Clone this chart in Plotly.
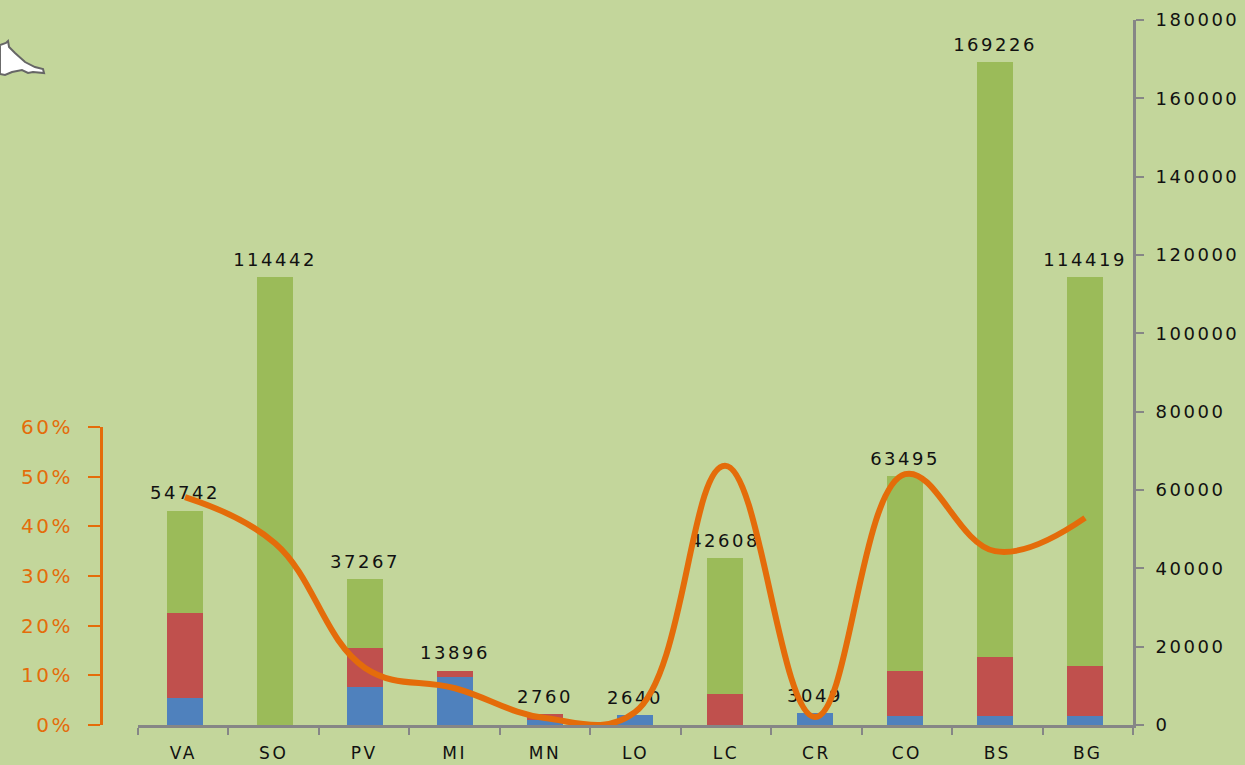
"""
Province chart: stacked bars with totals and a smoothed percentage line
"""

import plotly.graph_objects as go

provinces = ['VA', 'SO', 'PV', 'MI', 'MN', 'LO', 'LC', 'CR', 'CO', 'BS', 'BG']
blue_values = [7000, 0, 9800, 12250, 1300, 2640, 0, 3049, 2400, 2400, 2400]
red_values = [21700, 0, 9900, 1646, 1460, 0, 8000, 0, 11400, 14900, 12700]
green_values = [26042, 114442, 17567, 0, 0, 0, 34608, 0, 49695, 151926, 99319]
totals = [54742, 114442, 37267, 13896, 2760, 2640, 42608, 3049, 63495, 169226, 114419]
share_pct = [45.9, 36.6, 11.5, 7.4, 1.4, 2.6, 52.2, 1.6, 50.5, 35, 41.7]

right_ticks = [0, 20000, 40000, 60000, 80000, 100000, 120000, 140000, 160000, 180000]
left_ticks = [0, 10, 20, 30, 40, 50, 60]

BG_COLOR = '#C3D69B'
ORANGE = '#E46C0A'
GREY = '#868686'
FONT = 'DejaVu Sans'
W, H = 1245, 765
LEFT, RIGHT, TOP, BOTTOM = 101, 112, 20, 40


def px_x(x):
    return (x - LEFT) / (W - LEFT - RIGHT)


def px_y(y):
    return (H - BOTTOM - y) / (H - TOP - BOTTOM)


# white map fragment in the top left corner
blob = [(0, 45), (6, 43), (8, 41), (9, 47), (15, 53), (25, 62), (35, 67), (43, 69),
        (44, 73), (33, 72), (28, 73), (22, 70), (12, 72), (5, 75), (0, 74)]
blob_path = 'M ' + ' L '.join(f'{px_x(x):.4f} {px_y(y):.4f}' for x, y in blob) + ' Z'

fig = go.Figure()

# invisible trace so the visible category axis gets drawn
fig.add_trace(go.Scatter(x=provinces, y=[0] * len(provinces), mode='markers', xaxis='x', yaxis='y',
                         marker=dict(opacity=0), hoverinfo='skip'))

for name, values, color in [('blue', blue_values, '#4F81BD'),
                            ('red', red_values, '#C0504D'),
                            ('green', green_values, '#9BBB59')]:
    fig.add_trace(go.Bar(x=provinces, y=values, name=name, marker_color=color,
                         marker_line_width=0, width=0.4, xaxis='x2', yaxis='y'))

# transparent markers push the total labels up off the bars
fig.add_trace(go.Scatter(x=provinces, y=totals, mode='markers+text', text=[str(t) for t in totals],
                         textposition='top center', xaxis='x2', yaxis='y',
                         marker=dict(size=9, opacity=0),
                         textfont=dict(family=FONT, size=18, color='#111111'),
                         cliponaxis=False))

fig.add_trace(go.Scatter(x=provinces, y=share_pct, mode='lines', xaxis='x2', yaxis='y2',
                         line=dict(color=ORANGE, width=6, shape='spline', smoothing=1.15),
                         cliponaxis=False))

fig.update_layout(
    width=W,
    height=H,
    margin=dict(l=LEFT, r=RIGHT, t=TOP, b=BOTTOM, pad=0, autoexpand=False),
    paper_bgcolor=BG_COLOR,
    plot_bgcolor='rgba(0,0,0,0)',
    barmode='stack',
    showlegend=False,
    font=dict(family=FONT, size=18, color='#111111'),
    xaxis=dict(
        domain=[px_x(138), 1], anchor='y', type='category', categoryorder='array',
        categoryarray=provinces, tickmode='array', tickvals=provinces, ticktext=provinces,
        range=[-0.5, 10.5], tickson='boundaries', ticks='outside', ticklen=7, tickwidth=2,
        tickcolor=GREY, showline=True, linecolor=GREY, linewidth=3, showgrid=False,
        automargin=False, ticklabelstandoff=11, tickfont=dict(family=FONT, size=17, color='#111111'),
    ),
    xaxis2=dict(
        domain=[px_x(138), 1], anchor='y2', type='category', categoryorder='array',
        categoryarray=provinces, range=[-0.522, 10.533], visible=False,
    ),
    yaxis=dict(
        side='right', anchor='x', range=[0, 180000], tickmode='array', tickvals=right_ticks,
        ticktext=[str(t) for t in right_ticks],
        ticks='outside', ticklen=8, tickwidth=2, tickcolor=GREY, showline=True,
        linecolor=GREY, linewidth=3, showgrid=False, zeroline=False, ticklabelstandoff=8,
        automargin=False, tickfont=dict(family=FONT, size=18, color='#111111'),
    ),
    yaxis2=dict(
        domain=[0, (725 - 427) / (H - TOP - BOTTOM)], anchor='free', position=0, side='left',
        range=[0, 60], tickmode='array', tickvals=left_ticks,
        ticktext=[f'{t}%' for t in left_ticks], ticks='outside', ticklen=12, tickwidth=2,
        tickcolor=ORANGE, showline=True, linecolor=ORANGE, linewidth=3, showgrid=False,
        zeroline=False, ticklabelstandoff=11, automargin=False,
        tickfont=dict(family=FONT, size=20, color=ORANGE),
    ),
    shapes=[dict(type='path', path=blob_path, xref='paper', yref='paper',
                 fillcolor='white', line=dict(color='#666666', width=2))],
)

# drop the page margin and widen the text like the stretched original
post_script = """
document.body.style.margin = '0';
document.querySelectorAll('svg text').forEach(t => { t.style.letterSpacing = '2.5px'; });
"""
fig.write_html("out.html", post_script=post_script, config={'displayModeBar': False})
